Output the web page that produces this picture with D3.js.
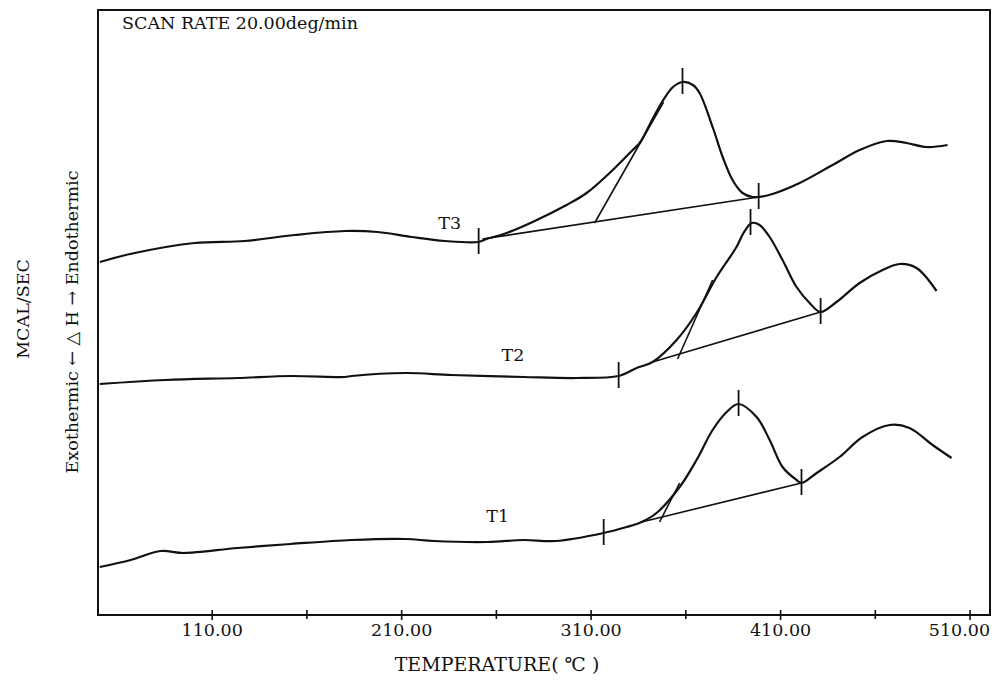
<!DOCTYPE html>
<html>
<head>
<meta charset="utf-8">
<script src="https://cdn.jsdelivr.net/npm/d3@7"></script>
<style>
  body { margin: 0; background: #fff; }
  text { font-family: "DejaVu Serif", "Liberation Serif", serif; fill: #111; }
</style>
</head>
<body>
<svg id="chart" width="997" height="684"></svg>
<script>
// Axis ticks (°C)
const majorTicks = [110, 210, 310, 410, 510];
const minorTicks = [160, 260, 360, 460];
const curveNames = ["T1", "T2", "T3"];

// DSC trace T3 (temperature °C, heat flow, arbitrary units)
const t3Temp   = [51, 69.4, 101, 127.4, 153.8, 180.2, 197.6, 215.5, 233, 250.9, 255.1, 265.7, 279.4, 297.3, 307.9, 320, 332.2, 335.9, 342.7, 348, 353.5, 358.5, 364, 367.5, 374.4, 379.7, 384.9, 390.2, 395.5, 398.7, 406, 420.3, 437.7, 452, 466.2, 476.8, 487.3, 498.4];
const t3Signal = [35.3, 36.2, 37.2, 37.4, 38.0, 38.4, 38.3, 37.8, 37.4, 37.3, 37.6, 38.2, 39.3, 41.0, 42.2, 44.2, 46.5, 47.2, 49.6, 51.4, 52.8, 53.3, 53.0, 52.2, 48.8, 45.8, 43.5, 42.2, 41.8, 41.8, 42.1, 43.2, 45.0, 46.5, 47.4, 47.2, 46.8, 47.0];

// DSC trace T2
const t2Temp   = [50.9, 85.7, 123.7, 151.7, 180.2, 183.9, 212.4, 236.6, 274.6, 302.6, 324.8, 334.3, 342.7, 355.4, 365.9, 376.5, 387, 390.7, 395, 399.2, 404.5, 411.3, 418.7, 425.6, 431.4, 439.8, 452, 464.1, 473.1, 482, 492.6];
const t2Signal = [23.1, 23.5, 23.7, 23.9, 23.8, 23.9, 24.2, 24.0, 23.8, 23.7, 23.9, 24.7, 25.3, 27.5, 30.2, 33.8, 36.8, 38.2, 39.2, 39.0, 37.8, 35.5, 32.8, 31.2, 30.3, 31.3, 33.2, 34.5, 35.1, 34.7, 32.4];

// DSC trace T1
const t1Temp   = [50.9, 67.3, 83.1, 95.2, 123.7, 151.7, 183.9, 212.4, 227.2, 255.6, 274.6, 291.5, 316.9, 329, 336.9, 344.8, 357, 365.9, 374.4, 381.8, 388.1, 397.6, 404.5, 411.3, 418.7, 421.3, 429.3, 441.4, 453.5, 467.8, 478.3, 490.5, 500.5];
const t1Signal = [4.8, 5.5, 6.4, 6.2, 6.7, 7.1, 7.5, 7.6, 7.4, 7.3, 7.5, 7.4, 8.2, 8.8, 9.3, 10.2, 12.8, 15.5, 18.5, 20.3, 21.1, 19.8, 17.5, 14.8, 13.5, 13.2, 14.2, 15.8, 17.8, 19.0, 18.7, 17.0, 15.7];

// Marked points: onset, peak, end of each transition
const t3MarkTemp = [250.9, 358.5, 398.7], t3MarkSignal = [37.3, 53.3, 41.8];
const t2MarkTemp = [324.8, 394.4, 431.4], t2MarkSignal = [23.9, 39.2, 30.3];
const t1MarkTemp = [316.9, 388.1, 421.3], t1MarkSignal = [8.2, 21.1, 13.2];

// Interpolated baselines under each peak
const t3BaseTemp = [253, 398.7], t3BaseSignal = [37.6, 41.8];
const t2BaseTemp = [342.7, 431.4], t2BaseSignal = [25.3, 30.3];
const t1BaseTemp = [336.9, 421.3], t1BaseSignal = [9.3, 13.2];

// Leading-edge tangents used for the extrapolated onset
const t3TanTemp = [312.1, 348.5], t3TanSignal = [39.2, 51.3];
const t2TanTemp = [355.9, 374.4], t2TanSignal = [25.6, 33.5];
const t1TanTemp = [346.4, 357.0], t1TanSignal = [9.3, 13.2];

// Curve label anchors (°C, signal)
const labelTemp   = [261, 269, 235.6];
const labelSignal = [9.9, 26.0, 39.2];

const zip = (a, b) => a.map((v, i) => [v, b[i]]);
const traces = [
  { line: zip(t1Temp, t1Signal), marks: zip(t1MarkTemp, t1MarkSignal), base: zip(t1BaseTemp, t1BaseSignal), tan: zip(t1TanTemp, t1TanSignal) },
  { line: zip(t2Temp, t2Signal), marks: zip(t2MarkTemp, t2MarkSignal), base: zip(t2BaseTemp, t2BaseSignal), tan: zip(t2TanTemp, t2TanSignal) },
  { line: zip(t3Temp, t3Signal), marks: zip(t3MarkTemp, t3MarkSignal), base: zip(t3BaseTemp, t3BaseSignal), tan: zip(t3TanTemp, t3TanSignal) }
];

const svg = d3.select("#chart");
const plot = { left: 98, right: 990, top: 10, bottom: 615 };

const x = d3.scaleLinear().domain([50, 520.8]).range([plot.left, plot.right]);
const y = d3.scaleLinear().domain([0, 60.5]).range([plot.bottom, plot.top]);

const smooth = d3.line().x(d => x(d[0])).y(d => y(d[1])).curve(d3.curveCatmullRom.alpha(0.5));
const straight = d3.line().x(d => x(d[0])).y(d => y(d[1]));

// Frame
svg.append("rect")
  .attr("x", plot.left).attr("y", plot.top)
  .attr("width", plot.right - plot.left).attr("height", plot.bottom - plot.top)
  .attr("fill", "none").attr("stroke", "#111").attr("stroke-width", 2);

// Bottom axis: ticks cross the axis line
const axisG = svg.append("g").attr("transform", `translate(0,${plot.bottom})`);
axisG.call(d3.axisBottom(x).tickValues(majorTicks).tickSize(5).tickPadding(4).tickFormat(d3.format(".2f")));
axisG.call(g => g.select(".domain").remove());
const crossG = svg.append("g").attr("transform", `translate(0,${plot.bottom})`);
crossG.call(d3.axisBottom(x).tickValues(majorTicks.concat(minorTicks)).tickSize(-5).tickFormat(""));
crossG.call(g => g.select(".domain").remove());
const minorG = svg.append("g").attr("transform", `translate(0,${plot.bottom})`);
minorG.call(d3.axisBottom(x).tickValues(minorTicks).tickSize(4).tickFormat(""));
minorG.call(g => g.select(".domain").remove());
svg.selectAll(".tick line").attr("stroke", "#111").attr("stroke-width", 1.6);
axisG.selectAll("text").attr("font-size", 17.5).style("font-family", "DejaVu Serif, serif").attr("fill", "#111");
// last label sits flush against the right edge of the frame
axisG.selectAll(".tick").filter(d => d === d3.max(majorTicks)).select("text")
  .attr("text-anchor", "end").attr("x", 20);

// Axis titles
svg.append("text")
  .attr("x", 497).attr("y", 671)
  .attr("text-anchor", "middle").attr("font-size", 19)
  .text("TEMPERATURE( \u2103 )");

svg.append("text")
  .attr("transform", "translate(29,309) rotate(-90)")
  .attr("text-anchor", "middle").attr("font-size", 17.5)
  .text("MCAL/SEC");

svg.append("text")
  .attr("transform", "translate(78,322) rotate(-90)")
  .attr("text-anchor", "middle").attr("font-size", 17.5)
  .text("Exothermic \u2190 \u25B3 H \u2192 Endothermic");

svg.append("text")
  .attr("x", 122).attr("y", 29)
  .attr("font-size", 17.5)
  .text("SCAN RATE 20.00deg/min");

// Traces
traces.forEach((t, i) => {
  svg.append("path").attr("d", smooth(t.line))
    .attr("fill", "none").attr("stroke", "#111").attr("stroke-width", 2.2)
    .attr("stroke-linejoin", "round");
  svg.append("path").attr("d", straight(t.base))
    .attr("fill", "none").attr("stroke", "#111").attr("stroke-width", 1.6);
  svg.append("path").attr("d", straight(t.tan))
    .attr("fill", "none").attr("stroke", "#111").attr("stroke-width", 1.6);
  svg.append("g").selectAll("line").data(t.marks).join("line")
    .attr("x1", d => x(d[0])).attr("x2", d => x(d[0]))
    .attr("y1", d => y(d[1]) - 14).attr("y2", d => y(d[1]) + 12)
    .attr("stroke", "#111").attr("stroke-width", 1.8);
  svg.append("text")
    .attr("x", x(labelTemp[i])).attr("y", y(labelSignal[i]))
    .attr("text-anchor", "middle").attr("dominant-baseline", "central")
    .attr("font-size", 17.5)
    .text(curveNames[i]);
});
</script>
</body>
</html>
